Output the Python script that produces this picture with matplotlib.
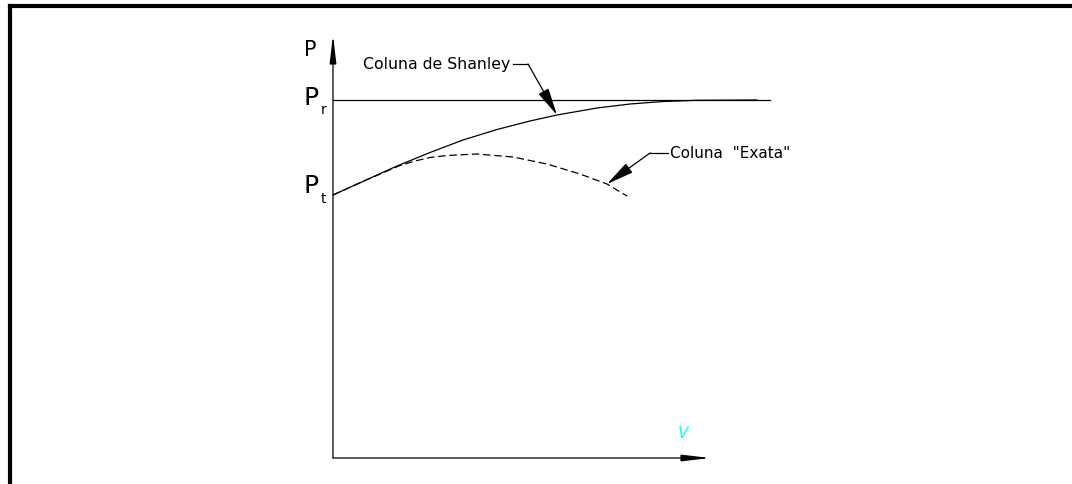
import numpy as np
import matplotlib
matplotlib.use("Agg")
import matplotlib.pyplot as plt
from matplotlib.lines import Line2D

# load levels (axis units: v along x, P along y)
p_t = 2.63
p_r = 3.58
v_axis_end = 3.77
p_axis_end = 4.23
v_pr_end = 4.37

# Shanley column curve
v_shanley = [0.0, 0.32, 0.64, 0.97, 1.30, 1.64, 1.97, 2.24, 2.64, 2.97, 3.30, 3.64, 4.24]
p_shanley = [2.63, 2.775, 2.92, 3.055, 3.18, 3.285, 3.37, 3.43, 3.50, 3.54, 3.565, 3.577, 3.58]

# "exact" column curve
v_exata = [0.0, 0.32, 0.67, 0.82, 0.97, 1.14, 1.44, 1.80, 2.14, 2.47, 2.74, 2.94]
p_exata = [2.63, 2.775, 2.925, 2.97, 3.005, 3.025, 3.04, 3.01, 2.94, 2.84, 2.74, 2.62]

fig = plt.figure(figsize=(10.72, 4.84), dpi=100)
ax = fig.add_axes([0, 0, 1, 1])
ax.set_xlim(-3.33, 7.39)
ax.set_ylim(-0.26, 4.58)
ax.axis("off")

# drawing frame (only top and left edges are visible)
fig.add_artist(Line2D([0.0093, 0.0093], [0.0, 0.9876], color="black", lw=3.0,
                      transform=fig.transFigure, solid_capstyle="projecting"))
fig.add_artist(Line2D([0.0093, 1.0], [0.9876, 0.9876], color="black", lw=3.0,
                      transform=fig.transFigure, solid_capstyle="projecting"))

lw = 0.9
arrow_axis = dict(arrowstyle="-|>,head_length=1.7,head_width=0.2", color="black",
                  lw=lw, shrinkA=0, shrinkB=0)

# axes with arrows
ax.annotate("", xy=(0, p_axis_end), xytext=(0, 0), arrowprops=arrow_axis)
ax.annotate("", xy=(v_axis_end, 0), xytext=(0, 0), arrowprops=arrow_axis)

# P_r level
ax.plot([0, v_pr_end], [p_r, p_r], color="black", lw=lw)

ax.plot(v_shanley, p_shanley, color="black", lw=lw)
ax.plot(v_exata, p_exata, color="black", lw=lw, dashes=(6, 3))

font = dict(family="DejaVu Sans", color="black")

ax.text(-0.29, 4.08, "P", fontsize=15, ha="left", va="center", **font)
ax.text(-0.29, p_r + 0.02, "P", fontsize=18, ha="left", va="center", **font)
ax.text(-0.12, p_r - 0.10, "r", fontsize=10, ha="left", va="center", **font)
ax.text(-0.29, p_t + 0.09, "P", fontsize=18, ha="left", va="center", **font)
ax.text(-0.12, p_t - 0.04, "t", fontsize=10, ha="left", va="center", **font)
ax.text(3.50, 0.25, "V", fontsize=11, ha="center", va="center",
        color="#00ffff", family="DejaVu Sans", style="italic")

# leader notes
leader_head = dict(arrowstyle="-|>,head_length=1.7,head_width=0.35", color="black",
                   lw=lw, shrinkA=0, shrinkB=0)

ax.text(0.30, 3.94, "Coluna de Shanley", fontsize=11.3, ha="left", va="center", **font)
ax.plot([1.80, 1.95], [3.94, 3.94], color="black", lw=lw)
ax.annotate("", xy=(2.24, 3.43), xytext=(1.95, 3.94), arrowprops=leader_head)

ax.text(3.37, 3.05, "Coluna  \"Exata\"", fontsize=11, ha="left", va="center", **font)
ax.plot([3.17, 3.35], [3.05, 3.05], color="black", lw=lw)
ax.annotate("", xy=(2.74, 2.74), xytext=(3.17, 3.05), arrowprops=leader_head)

fig.savefig("out.png", dpi=100)
